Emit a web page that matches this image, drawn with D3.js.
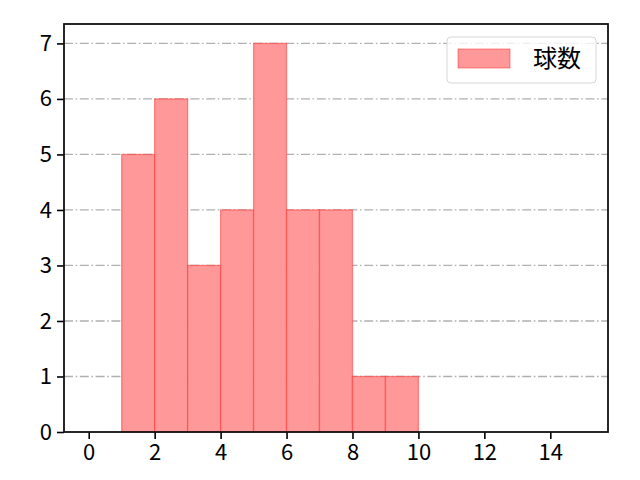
<!DOCTYPE html>
<html>
<head>
<meta charset="utf-8">
<script src="https://cdn.jsdelivr.net/npm/d3@7"></script>
<style>
  body { margin: 0; background: #fff; }
  text { font-family: "Noto Sans CJK JP", "DejaVu Sans", sans-serif; fill: #000; }
</style>
</head>
<body>
<svg id="chart" width="640" height="480"></svg>
<script>
/* data */
var binStarts = [1, 2, 3, 4, 5, 6, 7, 8, 9];
var counts    = [5, 6, 3, 4, 7, 4, 4, 1, 1];
var BIN_WIDTH = 1;
var xTicks = [0, 2, 4, 6, 8, 10, 12, 14];
var yTicks = [0, 1, 2, 3, 4, 5, 6, 7];
var seriesLabel = "球数";

/* measures */
var W = 640, H = 480;
var M = { left: 64, right: 32, top: 24, bottom: 48 };
var TICK_LEN = 7, FONT_SIZE = 22;

var svg = d3.select("#chart");

var x = d3.scaleLinear().domain([-0.75, 15.75]).range([M.left, W - M.right]);
var y = d3.scaleLinear().domain([0, 7.35]).range([H - M.bottom, M.top]);

// grid
svg.append("g").selectAll("line")
	.data(yTicks.slice(1))
	.enter().append("line")
	.attr("x1", M.left).attr("x2", W - M.right)
	.attr("y1", function(d) { return y(d); })
	.attr("y2", function(d) { return y(d); })
	.attr("stroke", "#b0b0b0")
	.attr("stroke-width", 1.3)
	.attr("stroke-dasharray", "9,2.6,1.6,2.6");

// bars
svg.append("g").selectAll("rect")
	.data(binStarts)
	.enter().append("rect")
	.attr("x", function(d) { return x(d); })
	.attr("y", function(d, i) { return y(counts[i]); })
	.attr("width", function(d) { return x(d + BIN_WIDTH) - x(d); })
	.attr("height", function(d, i) { return y(0) - y(counts[i]); })
	.attr("fill", "rgb(255,153,153)")
	.attr("stroke", "rgba(255,40,40,0.5)")
	.attr("stroke-width", 1.3);

// axes
var xAxis = svg.append("g")
	.attr("transform", "translate(0," + (H - M.bottom) + ")")
	.call(d3.axisBottom(x).tickValues(xTicks).tickSize(TICK_LEN).tickPadding(5));
var yAxis = svg.append("g")
	.attr("transform", "translate(" + M.left + ",0)")
	.call(d3.axisLeft(y).tickValues(yTicks).tickSize(TICK_LEN).tickPadding(5));

[xAxis, yAxis].forEach(function(a) {
	a.select(".domain").remove();
	a.selectAll("line").attr("stroke", "#000").attr("stroke-width", 1.6);
	a.selectAll("text").attr("font-size", FONT_SIZE).attr("fill", "#000")
		.style("font-family", "'Noto Sans CJK JP', sans-serif");
});

// frame
svg.append("rect")
	.attr("x", M.left).attr("y", M.top)
	.attr("width", W - M.left - M.right)
	.attr("height", H - M.top - M.bottom)
	.attr("fill", "none")
	.attr("stroke", "#111")
	.attr("stroke-width", 1.8);

// legend
var legend = svg.append("g").attr("transform", "translate(447,37)");
legend.append("rect")
	.attr("width", 149).attr("height", 46)
	.attr("rx", 4)
	.attr("fill", "rgba(255,255,255,0.8)")
	.attr("stroke", "#d6d6d6");
legend.append("rect")
	.attr("x", 11).attr("y", 12)
	.attr("width", 52).attr("height", 19)
	.attr("fill", "rgb(255,153,153)")
	.attr("stroke", "rgba(255,40,40,0.5)");
legend.append("text")
	.attr("x", 86).attr("y", 22)
	.attr("dy", "0.35em")
	.attr("font-size", FONT_SIZE + 2)
	.text(seriesLabel);
</script>
</body>
</html>
